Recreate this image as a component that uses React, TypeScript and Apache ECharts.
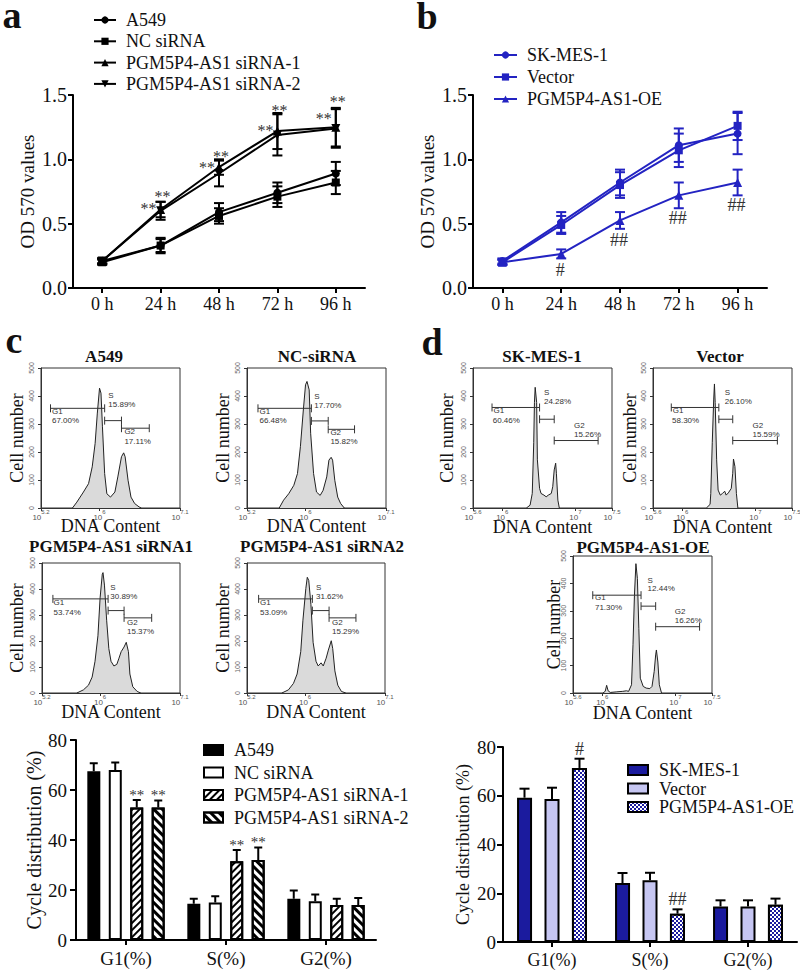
import React, { useEffect, useRef } from 'react';
import * as echarts from 'echarts';

const SERIF = "'Liberation Serif','Times New Roman',serif";
const SANS = "'Liberation Sans',Arial,sans-serif";

// ---------- panel a : growth curves (A549) ----------
const timePoints = ['0 h', '24 h', '48 h', '72 h', '96 h'];
const growthA549 = [0.21, 0.33, 0.59, 0.74, 0.89];
const errA549 = [0.02, 0.06, 0.07, 0.08, 0.09];
const growthNC = [0.2, 0.33, 0.56, 0.71, 0.82];
const errNC = [0.02, 0.05, 0.06, 0.08, 0.09];
const growthSi1 = [0.21, 0.61, 0.94, 1.22, 1.25];
const errSi1 = [0.02, 0.06, 0.06, 0.14, 0.15];
const growthSi2 = [0.21, 0.6, 0.89, 1.19, 1.24];
const errSi2 = [0.02, 0.07, 0.1, 0.16, 0.15];
const starsLeftA = [null, 0.645, 0.956, 1.251, 1.344];
const starsTopA = [null, 0.738, 1.049, 1.406, 1.469];
const starTextA = ['', '**', '**', '**', '**'];

// ---------- panel b : growth curves (SK-MES-1) ----------
const growthSK = [0.21, 0.51, 0.82, 1.11, 1.2];
const errSK = [0.02, 0.08, 0.1, 0.13, 0.16];
const growthVec = [0.2, 0.49, 0.8, 1.07, 1.26];
const errVec = [0.02, 0.07, 0.1, 0.13, 0.11];
const growthOE = [0.2, 0.265, 0.525, 0.72, 0.82];
const errOE = [0.02, 0.035, 0.065, 0.1, 0.1];
const hashPosB = [null, 0.14, 0.373, 0.544, 0.645];
const hashTextB = ['', '#', '##', '##', '##'];

// ---------- panel c/d : flow cytometry histograms [log10 DNA, count] ----------
const histA549 = [[5.63,0],[5.69,21],[5.78,57],[5.85,87],[5.9,147],[5.94,231],[5.97,339],[6.0,428],[6.02,410],[6.04,290],[6.07,123],[6.1,51],[6.15,39],[6.21,57],[6.25,111],[6.3,183],[6.33,197],[6.35,183],[6.39,99],[6.43,39],[6.48,16],[6.54,4],[6.57,0]];
const histNC = [[5.64,0],[5.7,28],[5.77,51],[5.84,81],[5.89,123],[5.93,219],[5.97,350],[6.0,440],[6.02,452],[6.05,422],[6.07,267],[6.11,123],[6.15,57],[6.2,45],[6.24,63],[6.29,111],[6.32,171],[6.35,181],[6.37,171],[6.4,99],[6.44,39],[6.48,16],[6.53,0]];
const histSi1 = [[5.68,0],[5.77,12],[5.84,30],[5.89,61],[5.93,122],[5.97,220],[6.0,366],[6.03,457],[6.04,463],[6.06,415],[6.09,280],[6.12,171],[6.15,122],[6.19,104],[6.23,110],[6.26,134],[6.29,159],[6.33,177],[6.36,195],[6.39,159],[6.41,73],[6.45,24],[6.51,6],[6.56,0]];
const histSi2 = [[5.68,0],[5.77,12],[5.84,37],[5.89,73],[5.94,159],[5.97,280],[6.01,402],[6.03,445],[6.05,433],[6.08,341],[6.11,195],[6.15,122],[6.18,104],[6.22,116],[6.25,104],[6.29,134],[6.32,165],[6.36,201],[6.38,171],[6.41,85],[6.45,30],[6.5,6],[6.56,0]];
const histSK = [[6.33,0],[6.38,10],[6.41,52],[6.43,233],[6.44,377],[6.45,431],[6.47,377],[6.48,172],[6.51,70],[6.53,52],[6.57,46],[6.6,40],[6.63,46],[6.67,52],[6.69,76],[6.71,136],[6.73,160],[6.74,124],[6.76,28],[6.78,0]];
const histVec = [[6.33,0],[6.38,13],[6.39,52],[6.41,233],[6.43,389],[6.44,443],[6.45,377],[6.47,172],[6.49,64],[6.52,46],[6.55,52],[6.58,60],[6.6,46],[6.63,54],[6.67,70],[6.69,124],[6.7,175],[6.72,148],[6.74,52],[6.76,0]];
const histOE = [[6.01,0],[6.04,6],[6.06,28],[6.08,8],[6.11,2],[6.19,4],[6.28,6],[6.33,8],[6.36,6],[6.4,30],[6.42,176],[6.44,357],[6.46,472],[6.48,418],[6.5,236],[6.52,54],[6.56,24],[6.6,18],[6.65,16],[6.68,24],[6.71,79],[6.73,139],[6.74,157],[6.76,113],[6.78,30],[6.81,0]];

// gates: [start, end, level]
const gatesA549 = [[5.33,6.07,356],[6.07,6.3,312],[6.3,6.68,285]];
const gatesNC = [[5.35,6.08,356],[6.08,6.31,311],[6.31,6.67,281]];
const gatesSi1 = [[5.35,6.11,362],[6.11,6.33,317],[6.33,6.71,289]];
const gatesSi2 = [[5.36,6.1,362],[6.1,6.33,317],[6.33,6.7,289]];
const gatesSK = [[5.86,6.51,359],[6.51,6.71,317],[6.71,7.31,241]];
const gatesVec = [[5.85,6.5,359],[6.5,6.69,317],[6.69,7.3,241]];
const gatesOE = [[5.87,6.53,357],[6.53,6.73,317],[6.73,7.33,242]];
// gate labels: [text, x, y]
const labelsA549: [string, number, number][] = [['G1',5.35,344],['67.00%',5.35,311],['S',6.12,401],['15.89%',6.12,368],['G2',6.34,273],['17.11%',6.34,239]];
const labelsNC: [string, number, number][] = [['G1',5.37,344],['66.48%',5.37,311],['S',6.12,398],['17.70%',6.12,366],['G2',6.34,269],['15.82%',6.34,237]];
const labelsSi1: [string, number, number][] = [['G1',5.36,348],['53.74%',5.36,311],['S',6.14,406],['30.89%',6.14,372],['G2',6.37,272],['15.37%',6.37,238]];
const labelsSi2: [string, number, number][] = [['G1',5.38,348],['53.09%',5.38,311],['S',6.15,406],['31.62%',6.15,372],['G2',6.37,272],['15.29%',6.37,238]];
const labelsSK: [string, number, number][] = [['G1',5.88,349],['60.46%',5.87,311],['S',6.57,413],['24.28%',6.57,381],['G2',6.98,293],['15.26%',6.98,263]];
const labelsVec: [string, number, number][] = [['G1',5.87,349],['58.30%',5.86,311],['S',6.58,413],['26.10%',6.58,381],['G2',6.96,293],['15.59%',6.96,263]];
const labelsOE: [string, number, number][] = [['G1',5.9,347],['71.30%',5.9,311],['S',6.62,412],['12.44%',6.62,381],['G2',6.99,297],['16.26%',6.99,266]];
const ticksC = [5.2, 6, 7.1];
const ticksD = [5.6, 6, 7, 7.5];

// ---------- bar charts ----------
const phases = ['G1(%)', 'S(%)', 'G2(%)'];
const cycA549 = [67.5, 14.5, 16.5];
const cycErrA549 = [3.2, 2, 3.3];
const cycNC = [68, 15, 15.5];
const cycErrNC = [3, 2.5, 2.7];
const cycSi1 = [53, 31.5, 14];
const cycErrSi1 = [3, 4.5, 2.5];
const cycSi2 = [53, 32, 14];
const cycErrSi2 = [2.8, 5, 2.8];
const sigSi = ['**', '**', ''];
const cycSK = [59.2, 24.2, 14.6];
const cycErrSK = [3.7, 4.1, 2.5];
const cycVec = [58.7, 25.3, 14.6];
const cycErrVec = [4.6, 3.1, 2.5];
const cycOE = [71.4, 11.6, 15.3];
const cycErrOE = [3.8, 1.8, 2.5];
const sigOE = ['#', '##', ''];

const BLUE = '#2323c2';
const NAVY = '#1b1b9e';
const LAV = '#c6c6f2';
const MARK = '#333';

const nameOf = (n: string) => n.split(':')[1];

function errBars(gi: number, vals: number[], errs: number[], color: string, cap: number, lw: number) {
  return {
    type: 'custom', xAxisIndex: gi, yAxisIndex: gi, silent: true, z: 2,
    data: vals.map((v, i) => [i, v, errs[i]]),
    renderItem: (p: any, api: any) => {
      const i = api.value(0), v = api.value(1), e = api.value(2);
      const hi = api.coord([i, v + e]);
      const lo = api.coord([i, v - e]);
      const x = hi[0];
      const st = { stroke: color, lineWidth: lw };
      return {
        type: 'group', children: [
          { type: 'line', shape: { x1: x, y1: hi[1], x2: x, y2: lo[1] }, style: st },
          { type: 'line', shape: { x1: x - cap / 2, y1: hi[1], x2: x + cap / 2, y2: hi[1] }, style: st },
          { type: 'line', shape: { x1: x - cap / 2, y1: lo[1], x2: x + cap / 2, y2: lo[1] }, style: st },
        ],
      };
    },
  };
}

function barErr(gi: number, vals: number[], errs: number[], k: number, n: number, spacing: number, cap: number, sig: string[] | null, sigSize: number) {
  return {
    type: 'custom', xAxisIndex: gi, yAxisIndex: gi, silent: true, z: 5,
    data: vals.map((v, i) => [i, v, errs[i]]),
    renderItem: (p: any, api: any) => {
      const i = api.value(0), v = api.value(1), e = api.value(2);
      const base = api.coord([i, v]);
      const top = api.coord([i, v + e]);
      const x = base[0] + (k - (n - 1) / 2) * spacing;
      const st = { stroke: '#000', lineWidth: 2 };
      const children: any[] = [
        { type: 'line', shape: { x1: x, y1: base[1], x2: x, y2: top[1] }, style: st },
        { type: 'line', shape: { x1: x - cap / 2, y1: top[1], x2: x + cap / 2, y2: top[1] }, style: st },
      ];
      const s = sig ? sig[p.dataIndex] : '';
      if (s) {
        const star = s.indexOf('*') >= 0;
        children.push({
          type: 'text', x, y: top[1] + (star ? 2 : -1),
          style: { text: s, fill: MARK, font: `${sigSize}px ${SERIF}`, align: 'center', verticalAlign: 'bottom' },
        });
      }
      return { type: 'group', children };
    },
  };
}

function markText(gi: number, vals: (number | null)[], texts: string[], dx: number, dy: number, size: number) {
  return {
    type: 'custom', xAxisIndex: gi, yAxisIndex: gi, silent: true, z: 6,
    data: vals.map((v, i) => [i, v == null ? 0 : v]),
    renderItem: (p: any, api: any) => {
      const t = texts[p.dataIndex];
      if (!t) return null;
      const c = api.coord([api.value(0), api.value(1)]);
      return {
        type: 'text', x: c[0] + dx, y: c[1] + dy,
        style: { text: t, fill: MARK, font: `${size}px ${SERIF}`, align: 'center', verticalAlign: 'middle' },
      };
    },
  };
}

function gateSeries(gi: number, gates: number[][]) {
  return {
    type: 'custom', xAxisIndex: gi, yAxisIndex: gi, silent: true, z: 4,
    encode: { x: [0, 1], y: 2 },
    data: gates,
    renderItem: (p: any, api: any) => {
      const a = api.coord([api.value(0), api.value(2)]);
      const b = api.coord([api.value(1), api.value(2)]);
      const st = { stroke: '#333', lineWidth: 1 };
      return {
        type: 'group', children: [
          { type: 'line', shape: { x1: a[0], y1: a[1], x2: b[0], y2: b[1] }, style: st },
          { type: 'line', shape: { x1: a[0], y1: a[1] - 4, x2: a[0], y2: a[1] + 4 }, style: st },
          { type: 'line', shape: { x1: b[0], y1: b[1] - 4, x2: b[0], y2: b[1] + 4 }, style: st },
        ],
      };
    },
  };
}

function gateLabels(gi: number, labels: [string, number, number][]) {
  return {
    type: 'custom', xAxisIndex: gi, yAxisIndex: gi, silent: true, z: 4,
    data: labels.map((l) => [l[1], l[2]]),
    renderItem: (p: any, api: any) => {
      const c = api.coord([api.value(0), api.value(1)]);
      return {
        type: 'text', x: c[0], y: c[1],
        style: { text: labels[p.dataIndex][0], fill: '#333', font: `8px ${SANS}`, align: 'left', verticalAlign: 'middle' },
      };
    },
  };
}

function histSeries(gi: number, pts: number[][]) {
  return {
    type: 'line', xAxisIndex: gi, yAxisIndex: gi, data: pts, symbol: 'none', silent: true, z: 3,
    lineStyle: { color: '#222', width: 1 },
    areaStyle: { color: '#dadada', opacity: 1 },
  };
}

const expRich = {
  b: { fontSize: 8, color: '#555', fontFamily: SANS, lineHeight: 12, verticalAlign: 'bottom' },
  s: { fontSize: 6, color: '#555', fontFamily: SANS, lineHeight: 12, verticalAlign: 'top' },
};

function histAxes(gi: number, min: number, max: number, ticks: number[], yGap: number, xGap: number) {
  const x = {
    type: 'value', gridIndex: gi, min, max,
    axisLine: { show: true, onZero: false, lineStyle: { color: '#333', width: 1 } },
    axisTick: { show: true, length: 3, customValues: ticks, lineStyle: { color: '#333' } },
    axisLabel: {
      customValues: ticks, margin: 1, rich: expRich,
      formatter: (v: number) => `{b|10}{s|${Math.round(v * 10) / 10}}`,
    },
    splitLine: { show: false },
    name: 'DNA Content', nameLocation: 'middle', nameGap: xGap, nameMoveOverlap: false,
    nameTextStyle: { fontSize: 18, fontFamily: SERIF, color: '#111' },
  };
  const y = {
    type: 'value', gridIndex: gi, min: 0, max: 500, interval: 100,
    axisLine: { show: true, lineStyle: { color: '#333', width: 1 } },
    axisTick: { show: true, length: 3, lineStyle: { color: '#333' } },
    axisLabel: { rotate: 90, fontSize: 7, color: '#666', fontFamily: SANS, margin: 6 },
    splitLine: { show: false },
    name: 'Cell number', nameLocation: 'middle', nameGap: yGap, nameRotate: 90, nameMoveOverlap: false,
    nameTextStyle: { fontSize: 18, fontFamily: SERIF, color: '#111' },
  };
  return { x, y };
}

function lineAxes(gi: number) {
  const ax = { lineStyle: { color: '#000', width: 2 } };
  return {
    x: {
      type: 'category', gridIndex: gi, data: timePoints, boundaryGap: true,
      axisLine: { show: true, ...ax }, axisTick: { show: true, alignWithLabel: true, length: 5, ...ax },
      axisLabel: { fontSize: 18, fontFamily: SERIF, color: '#111', margin: 7 },
      splitLine: { show: false },
    },
    y: {
      type: 'value', gridIndex: gi, min: 0, max: 1.5, interval: 0.5,
      axisLine: { show: true, ...ax }, axisTick: { show: true, length: 5, ...ax },
      axisLabel: { fontSize: 20, fontFamily: SERIF, color: '#111', margin: 6, formatter: (v: number) => v.toFixed(1) },
      splitLine: { show: false },
      name: 'OD 570 values', nameLocation: 'middle', nameGap: 36, nameMoveOverlap: false,
      nameTextStyle: { fontSize: 19, fontFamily: SERIF, color: '#111' },
    },
  };
}

function barAxes(gi: number, labelSize: number, nameSize: number, nameGap: number, yMargin: number) {
  const ax = { lineStyle: { color: '#000', width: 2 } };
  return {
    x: {
      type: 'category', gridIndex: gi, data: phases,
      axisLine: { show: true, ...ax }, axisTick: { show: true, alignWithLabel: true, length: 5, ...ax },
      axisLabel: { fontSize: labelSize, fontFamily: SERIF, color: '#111', margin: 9 },
      splitLine: { show: false },
    },
    y: {
      type: 'value', gridIndex: gi, min: 0, max: 80, interval: 20,
      axisLine: { show: true, ...ax }, axisTick: { show: true, length: 6, ...ax },
      axisLabel: { fontSize: 19, fontFamily: SERIF, color: '#111', margin: yMargin },
      splitLine: { show: false },
      name: 'Cycle distribution (%)', nameLocation: 'middle', nameGap, nameMoveOverlap: false,
      nameTextStyle: { fontSize: nameSize, fontFamily: SERIF, color: '#111' },
    },
  };
}

function lineSeries(name: string, gi: number, data: number[], color: string, symbol: string, size: number, rot = 0) {
  return {
    type: 'line', name, xAxisIndex: gi, yAxisIndex: gi, data, symbol, symbolSize: size, symbolRotate: rot,
    lineStyle: { color, width: 2 }, itemStyle: { color }, z: 3,
  };
}

function barSeries(name: string, gi: number, data: number[], color: string, bw: number, gap: string, decal?: any) {
  const itemStyle: any = { color, borderColor: '#000', borderWidth: 2 };
  if (decal) itemStyle.decal = decal;
  return { type: 'bar', name, xAxisIndex: gi, yAxisIndex: gi, data, barWidth: bw, barGap: gap, itemStyle, z: 2 };
}

function gText(text: string, x: number, y: number, size: number, bold: boolean, lineHeight?: number) {
  const style: any = { text, font: `${bold ? 'bold ' : ''}${size}px ${SERIF}`, fill: '#111', align: 'center', verticalAlign: 'middle' };
  if (lineHeight) style.lineHeight = lineHeight;
  return { type: 'text', x, y, silent: true, style };
}

function legendText(lineHeight: number, gap: number) {
  return {
    rich: {
      t: { fontSize: 18, fontFamily: SERIF, color: '#111', lineHeight, padding: [0, 0, 0, gap] },
    },
  };
}
const legFmt = (n: string) => `{t|${nameOf(n)}}`;

function buildOption() {
  const grids = [
    { left: 73, top: 95, width: 292, height: 193 },
    { left: 473, top: 95, width: 294, height: 193 },
    { left: 41, top: 368, width: 139, height: 140, show: true, borderColor: '#333', borderWidth: 1 },
    { left: 247, top: 368, width: 139, height: 140, show: true, borderColor: '#333', borderWidth: 1 },
    { left: 42, top: 563, width: 138, height: 130, show: true, borderColor: '#333', borderWidth: 1 },
    { left: 247, top: 563, width: 138, height: 130, show: true, borderColor: '#333', borderWidth: 1 },
    { left: 473, top: 368, width: 139, height: 140, show: true, borderColor: '#333', borderWidth: 1 },
    { left: 653, top: 368, width: 139, height: 140, show: true, borderColor: '#333', borderWidth: 1 },
    { left: 573, top: 556, width: 139, height: 137, show: true, borderColor: '#333', borderWidth: 1 },
    { left: 76, top: 740, width: 300, height: 200 },
    { left: 503, top: 747, width: 294, height: 195 },
  ].map((g) => ({ ...g, containLabel: false, outerBoundsMode: 'none' }));

  const la = lineAxes(0), lb = lineAxes(1);
  const h = [
    histAxes(2, 5.2, 7.1, ticksC, 15, 9),
    histAxes(3, 5.2, 7.1, ticksC, 15, 9),
    histAxes(4, 5.2, 7.1, ticksC, 16, 10),
    histAxes(5, 5.2, 7.1, ticksC, 15, 10),
    histAxes(6, 5.6, 7.5, ticksD, 17, 10),
    histAxes(7, 5.6, 7.5, ticksD, 14, 10),
    histAxes(8, 5.6, 7.5, ticksD, 10, 11),
  ];
  const bc = barAxes(9, 19, 20, 32, 9), bd = barAxes(10, 18, 18, 31, 7);

  const xAxis = [la.x, lb.x, ...h.map((a) => a.x), bc.x, bd.x];
  const yAxis = [la.y, lb.y, ...h.map((a) => a.y), bc.y, bd.y];

  const stripe1 = { symbol: 'rect', symbolSize: 1, color: '#000', dashArrayX: [1, 0], dashArrayY: [2, 3], rotation: -Math.PI / 4 };
  const stripe2 = { symbol: 'rect', symbolSize: 1, color: '#000', dashArrayX: [1, 0], dashArrayY: [3, 3], rotation: Math.PI / 4 };
  const checker = { symbol: 'rect', symbolSize: 1, color: '#fff', dashArrayX: [[2, 2], [0, 2, 2, 0]], dashArrayY: [2, 0], rotation: 0 };

  const series: any[] = [
    // panel a
    errBars(0, growthA549, errA549, '#000', 10, 2),
    errBars(0, growthNC, errNC, '#000', 10, 2),
    errBars(0, growthSi1, errSi1, '#000', 10, 2),
    errBars(0, growthSi2, errSi2, '#000', 10, 2),
    lineSeries('a:A549', 0, growthA549, '#000', 'circle', 8),
    lineSeries('a:NC siRNA', 0, growthNC, '#000', 'rect', 8),
    lineSeries('a:PGM5P4-AS1 siRNA-1', 0, growthSi1, '#000', 'triangle', 9),
    lineSeries('a:PGM5P4-AS1 siRNA-2', 0, growthSi2, '#000', 'triangle', 9, 180),
    markText(0, starsLeftA, starTextA, -12, 3, 16),
    markText(0, starsTopA, starTextA, 2, 3, 16),
    // panel b
    errBars(1, growthSK, errSK, BLUE, 10, 2),
    errBars(1, growthVec, errVec, BLUE, 10, 2),
    errBars(1, growthOE, errOE, BLUE, 10, 2),
    lineSeries('b:SK-MES-1', 1, growthSK, BLUE, 'circle', 8),
    lineSeries('b:Vector', 1, growthVec, BLUE, 'rect', 8),
    lineSeries('b:PGM5P4-AS1-OE', 1, growthOE, BLUE, 'triangle', 9),
    markText(1, hashPosB, hashTextB, -1, 0, 18),
    // histograms
    histSeries(2, histA549), gateSeries(2, gatesA549), gateLabels(2, labelsA549),
    histSeries(3, histNC), gateSeries(3, gatesNC), gateLabels(3, labelsNC),
    histSeries(4, histSi1), gateSeries(4, gatesSi1), gateLabels(4, labelsSi1),
    histSeries(5, histSi2), gateSeries(5, gatesSi2), gateLabels(5, labelsSi2),
    histSeries(6, histSK), gateSeries(6, gatesSK), gateLabels(6, labelsSK),
    histSeries(7, histVec), gateSeries(7, gatesVec), gateLabels(7, labelsVec),
    histSeries(8, histOE), gateSeries(8, gatesOE), gateLabels(8, labelsOE),
    // bar chart c
    barSeries('c:A549', 9, cycA549, '#000', 13, '65%'),
    barSeries('c:NC siRNA', 9, cycNC, '#fff', 13, '65%'),
    barSeries('c:PGM5P4-AS1 siRNA-1', 9, cycSi1, '#fff', 13, '65%', stripe1),
    barSeries('c:PGM5P4-AS1 siRNA-2', 9, cycSi2, '#fff', 13, '65%', stripe2),
    barErr(9, cycA549, cycErrA549, 0, 4, 21.5, 8, null, 15),
    barErr(9, cycNC, cycErrNC, 1, 4, 21.5, 8, null, 15),
    barErr(9, cycSi1, cycErrSi1, 2, 4, 21.5, 8, sigSi, 15),
    barErr(9, cycSi2, cycErrSi2, 3, 4, 21.5, 8, sigSi, 15),
    // bar chart d
    barSeries('d:SK-MES-1', 10, cycSK, NAVY, 15, '83%'),
    barSeries('d:Vector', 10, cycVec, LAV, 15, '83%'),
    barSeries('d:PGM5P4-AS1-OE', 10, cycOE, NAVY, 15, '83%', checker),
    barErr(10, cycSK, cycErrSK, 0, 3, 27.5, 10, null, 18),
    barErr(10, cycVec, cycErrVec, 1, 3, 27.5, 10, null, 18),
    barErr(10, cycOE, cycErrOE, 2, 3, 27.5, 10, sigOE, 18),
  ];

  const legend = [
    {
      data: ['a:A549', 'a:NC siRNA', 'a:PGM5P4-AS1 siRNA-1', 'a:PGM5P4-AS1 siRNA-2'],
      orient: 'vertical', left: 93, top: 11, padding: 0, itemWidth: 22, itemHeight: 9, itemGap: 3.3,
      formatter: legFmt, textStyle: legendText(18, 5), selectedMode: false,
    },
    {
      data: ['b:SK-MES-1', 'b:Vector', 'b:PGM5P4-AS1-OE'],
      orient: 'vertical', left: 493, top: 46, padding: 0, itemWidth: 23, itemHeight: 9, itemGap: 4,
      formatter: legFmt, textStyle: legendText(18, 5), selectedMode: false,
    },
    {
      data: ['c:A549', 'c:NC siRNA', 'c:PGM5P4-AS1 siRNA-1', 'c:PGM5P4-AS1 siRNA-2'],
      orient: 'vertical', left: 203, top: 741, padding: 0, itemWidth: 19, itemHeight: 10, itemGap: 4.5, icon: 'rect',
      formatter: legFmt, textStyle: legendText(18, 6), selectedMode: false,
    },
    {
      data: ['d:SK-MES-1', 'd:Vector', 'd:PGM5P4-AS1-OE'],
      orient: 'vertical', left: 627, top: 761, padding: 0, itemWidth: 20, itemHeight: 10, itemGap: 0.5, icon: 'rect',
      formatter: legFmt, textStyle: legendText(16, 6), selectedMode: false,
    },
  ];

  const graphic = [
    gText('a', 12, 15, 38, true, 28),
    gText('b', 427, 16, 38, true, 30),
    gText('c', 14, 340, 38, true),
    gText('d', 432, 342, 38, true),
    gText('A549', 104, 356, 17, true),
    gText('NC-siRNA', 317, 356, 17, true),
    gText('PGM5P4-AS1 siRNA1', 111, 546, 17, true),
    gText('PGM5P4-AS1 siRNA2', 322, 546, 17, true),
    gText('SK-MES-1', 542, 356, 17, true),
    gText('Vector', 720, 356, 17, true),
    gText('PGM5P4-AS1-OE', 643, 547, 17, true),
  ];

  return {
    animation: false,
    backgroundColor: '#fff',
    textStyle: { fontFamily: SERIF },
    grid: grids,
    xAxis, yAxis, series, legend, graphic,
  };
}

export default function App() {
  const ref = useRef<HTMLDivElement>(null);
  useEffect(() => {
    if (!ref.current) return;
    const chart = echarts.init(ref.current, null, { renderer: 'svg' });
    chart.setOption(buildOption() as any);
    return () => chart.dispose();
  }, []);
  return (
    <div
      ref={ref}
      style={{ position: 'absolute', left: 0, top: 0, width: 800, height: 970, background: '#fff' }}
    />
  );
}
